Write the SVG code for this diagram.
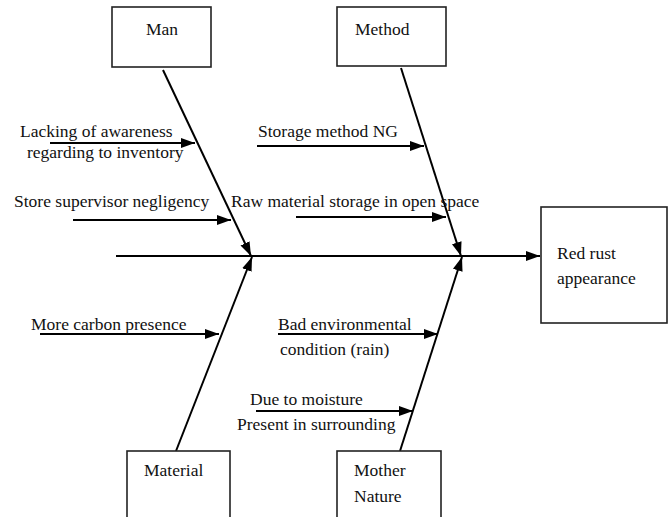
<svg xmlns="http://www.w3.org/2000/svg" width="669" height="517" viewBox="0 0 669 517" font-family="Liberation Serif, Times New Roman, serif">
<style>
text{font-size:17.5px;fill:#111}
.box{fill:#fff;stroke:#222;stroke-width:1.6}
.ln{stroke:#000;stroke-width:2;fill:none}
</style>
<defs>
<marker id="ah" markerUnits="userSpaceOnUse" markerWidth="14" markerHeight="10" refX="14" refY="5" orient="auto">
<path d="M0,0 L14,5 L0,10 z" fill="#000"/>
</marker>
</defs>
<rect width="669" height="517" fill="#fff"/>
<g id="connectors">
<line class="ln" x1="116" y1="256" x2="540" y2="256" marker-end="url(#ah)"/>
<line class="ln" x1="163" y1="70" x2="251" y2="256" marker-end="url(#ah)"/>
<line class="ln" x1="401" y1="68" x2="461" y2="256" marker-end="url(#ah)"/>
<line class="ln" x1="176" y1="451" x2="252" y2="257" marker-end="url(#ah)"/>
<line class="ln" x1="400" y1="451" x2="462" y2="257" marker-end="url(#ah)"/>
<line class="ln" x1="50" y1="143" x2="195" y2="143" marker-end="url(#ah)"/>
<line class="ln" x1="73" y1="220" x2="231" y2="220" marker-end="url(#ah)"/>
<line class="ln" x1="257" y1="146" x2="424" y2="146" marker-end="url(#ah)"/>
<line class="ln" x1="296" y1="217" x2="446" y2="217" marker-end="url(#ah)"/>
<line class="ln" x1="40" y1="334" x2="219" y2="334" marker-end="url(#ah)"/>
<line class="ln" x1="278" y1="334" x2="438" y2="334" marker-end="url(#ah)"/>
<line class="ln" x1="256" y1="411" x2="413" y2="411" marker-end="url(#ah)"/>
</g>
<g id="man"><rect class="box" x="112" y="7" width="99" height="60"/><text x="146" y="35">Man</text></g>
<g id="method"><rect class="box" x="337" y="7" width="109" height="59"/><text x="355" y="35">Method</text></g>
<g id="material"><rect class="box" x="127" y="451" width="103" height="80"/><text x="144" y="476">Material</text></g>
<g id="mother-nature"><rect class="box" x="337" y="451" width="104" height="80"/><text x="354" y="476">Mother</text><text x="354" y="502">Nature</text></g>
<g id="red-rust"><rect class="box" x="541" y="207" width="126" height="116"/><text x="557" y="259">Red rust</text><text x="557" y="284">appearance</text></g>
<g id="cause-lacking"><text x="20" y="137">Lacking of awareness</text><text x="27" y="158">regarding to inventory</text></g>
<g id="cause-store"><text x="14" y="207">Store supervisor negligency</text></g>
<g id="cause-storage"><text x="258" y="137">Storage method NG</text></g>
<g id="cause-raw"><text x="231" y="207">Raw material storage in open space</text></g>
<g id="cause-carbon"><text x="31" y="330">More carbon presence</text></g>
<g id="cause-bad-env"><text x="278" y="330">Bad environmental</text><text x="280" y="355">condition (rain)</text></g>
<g id="cause-moisture"><text x="250" y="405">Due to moisture</text><text x="237" y="430">Present in surrounding</text></g>
</svg>
